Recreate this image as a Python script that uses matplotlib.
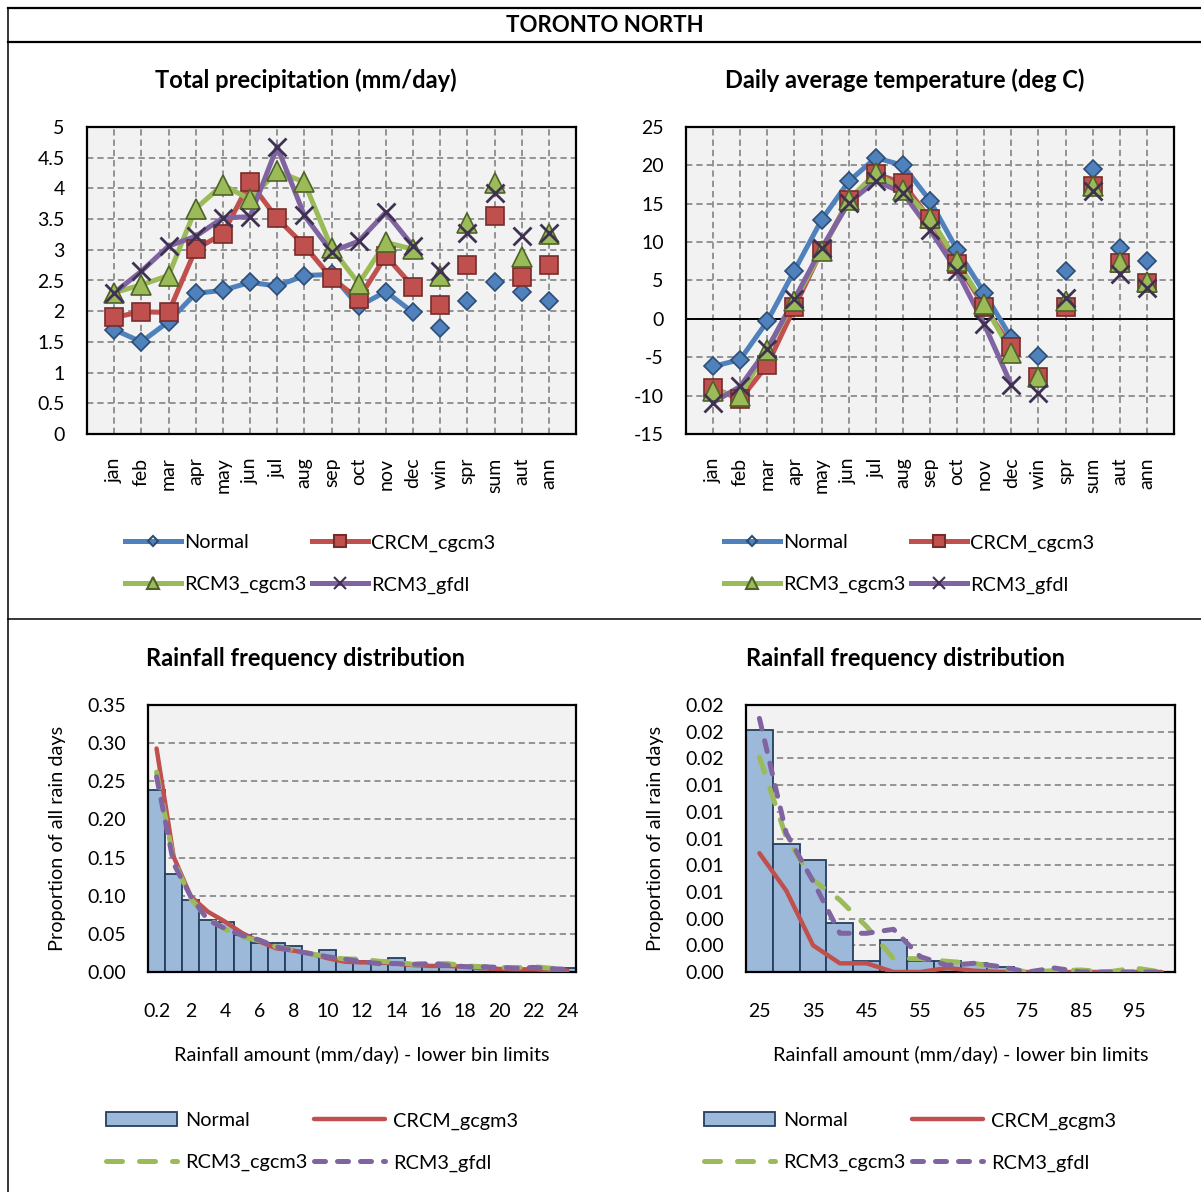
import matplotlib
matplotlib.use("Agg")
import matplotlib.pyplot as plt
import numpy as np
from matplotlib.lines import Line2D
from matplotlib.patches import Patch
from matplotlib.ticker import FormatStrFormatter

plt.rcParams['font.family'] = ['Lato', 'DejaVu Sans']

# ---------------- data ----------------
periods = ['jan', 'feb', 'mar', 'apr', 'may', 'jun', 'jul', 'aug', 'sep', 'oct', 'nov', 'dec',
           'win', 'spr', 'sum', 'aut', 'ann']
series_names = ['Normal', 'CRCM_cgcm3', 'RCM3_cgcm3', 'RCM3_gfdl']

precip_normal = [1.70, 1.50, 1.83, 2.29, 2.34, 2.47, 2.41, 2.58, 2.60, 2.08, 2.32, 1.98,
                 1.72, 2.16, 2.48, 2.32, 2.17]
precip_crcm = [1.90, 1.99, 1.98, 3.01, 3.26, 4.10, 3.51, 3.07, 2.54, 2.20, 2.90, 2.40,
               2.10, 2.75, 3.55, 2.55, 2.75]
precip_rcm3_cgcm3 = [2.30, 2.43, 2.58, 3.67, 4.06, 3.82, 4.28, 4.10, 3.03, 2.45, 3.12, 3.01,
                     2.58, 3.43, 4.08, 2.88, 3.25]
precip_rcm3_gfdl = [2.30, 2.65, 3.06, 3.22, 3.52, 3.54, 4.68, 3.56, 2.97, 3.14, 3.61, 3.06,
                    2.65, 3.27, 3.92, 3.23, 3.27]

temp_normal = [-6.2, -5.3, -0.3, 6.3, 12.9, 17.9, 21.0, 20.0, 15.4, 9.0, 3.4, -2.5,
               -4.8, 6.3, 19.5, 9.2, 7.6]
temp_crcm = [-9.0, -10.5, -6.0, 1.5, 8.9, 15.5, 18.9, 17.7, 13.0, 7.2, 1.6, -3.6,
             -7.6, 1.5, 17.3, 7.3, 4.7]
temp_rcm3_cgcm3 = [-9.4, -10.0, -4.0, 2.3, 8.8, 15.5, 19.0, 16.8, 13.2, 7.5, 1.9, -4.4,
                   -7.6, 2.3, 17.3, 7.4, 4.8]
temp_rcm3_gfdl = [-10.9, -8.8, -3.9, 2.6, 9.2, 15.1, 18.0, 16.4, 11.6, 6.2, -0.7, -8.6,
                  -9.6, 2.7, 16.6, 5.8, 4.0]

precip_ticks = [0, 0.5, 1, 1.5, 2, 2.5, 3, 3.5, 4, 4.5, 5]
precip_ticklabels = ['0', '0.5', '1', '1.5', '2', '2.5', '3', '3.5', '4', '4.5', '5']
temp_ticks = [-15, -10, -5, 0, 5, 10, 15, 20, 25]

# rainfall frequency, small amounts (lower bin limits, mm/day)
bins_small = ['0.2'] + [str(i) for i in range(1, 25)]
freq_small_normal = [0.239, 0.128, 0.094, 0.068, 0.066, 0.048, 0.038, 0.038, 0.034, 0.024,
                     0.029, 0.016, 0.014, 0.011, 0.018, 0.009, 0.008, 0.007, 0.006, 0.005,
                     0.004, 0.004, 0.0035, 0.003, 0.005]
freq_small_crcm = [0.293, 0.151, 0.099, 0.079, 0.066, 0.051, 0.040, 0.031, 0.028, 0.024,
                   0.018, 0.0135, 0.0126, 0.0126, 0.011, 0.009, 0.008, 0.008, 0.007, 0.005,
                   0.004, 0.0035, 0.0035, 0.0026, 0.0017]
freq_small_rcm3_cgcm3 = [0.262, 0.147, 0.096, 0.070, 0.056, 0.046, 0.041, 0.033, 0.029, 0.024,
                         0.020, 0.017, 0.017, 0.014, 0.013, 0.010, 0.011, 0.011, 0.008, 0.007,
                         0.006, 0.0057, 0.007, 0.005, 0.0035]
freq_small_rcm3_gfdl = [0.256, 0.142, 0.099, 0.068, 0.057, 0.048, 0.042, 0.033, 0.028, 0.024,
                        0.020, 0.017, 0.0135, 0.011, 0.011, 0.010, 0.011, 0.009, 0.007, 0.007,
                        0.006, 0.005, 0.006, 0.0044, 0.0035]
small_ticks = [0, 0.05, 0.10, 0.15, 0.20, 0.25, 0.30, 0.35]

# rainfall frequency, large amounts
bins_large = [str(v) for v in range(25, 101, 5)]
freq_large_normal = [0.0181, 0.0096, 0.0084, 0.0037, 0.0008, 0.0024, 0.0008, 0.0008, 0.00065,
                     0.0004, 0.0001, 0.0, 0.0, 0.0, 0.0, 0.0]
freq_large_crcm = [0.0089, 0.0061, 0.0020, 0.00065, 0.00065, 0.0, 0.0, 0.0003, 0.0001, 0.0,
                   0.0, 0.0, 0.0, 0.0, 0.0, 0.0]
freq_large_rcm3_cgcm3 = [0.0161, 0.0101, 0.0069, 0.0054, 0.0034, 0.0010, 0.0010, 0.0008,
                         0.00065, 0.0003, 0.0, 0.0001, 0.00015, 0.0, 0.0003, 0.0]
freq_large_rcm3_gfdl = [0.0190, 0.0104, 0.0068, 0.0029, 0.0029, 0.0032, 0.00115, 0.0005,
                        0.00065, 0.0004, 0.0, 0.0003, 0.0, 0.0, 0.0, 0.0]
large_ticks = [0, 0.002, 0.004, 0.006, 0.008, 0.010, 0.012, 0.014, 0.016, 0.018, 0.020]

freq_names = ['Normal', 'CRCM_gcgm3', 'RCM3_cgcm3', 'RCM3_gfdl']

# ---------------- styles ----------------
W, H = 1201, 1192
fig = plt.figure(figsize=(W / 100, H / 100), dpi=100)

def fx(px):
    return px / W

def fy(py):
    return 1 - py / H

def axes_px(x0, y0, x1, y1):
    return fig.add_axes([fx(x0), fy(y1), fx(x1) - fx(x0), (y1 - y0) / H])

BG = '#F2F2F2'
GRID = '#8C8C8C'
TICK_FS = 14
TEXT_FS = 14.3
TITLE_FS = 17
line_styles = [
    dict(color='#4F81BD', marker='D', ms=9, mfc='#4F81BD', mec='#2C4D75', mew=1.2),
    dict(color='#C0504D', marker='s', ms=13, mfc='#C0504D', mec='#772C2A', mew=1.2),
    dict(color='#9BBB59', marker='^', ms=14, mfc='#9BBB59', mec='#4F6228', mew=1.2),
    dict(color='#8064A2', marker='x', ms=13, mfc='#3F3151', mec='#3F3151', mew=2.0),
]

def style_frame(ax):
    ax.set_facecolor(BG)
    for s in ax.spines.values():
        s.set_color('black')
        s.set_linewidth(1.6)
    ax.tick_params(length=0, labelsize=TICK_FS)

def line_chart(ax, data, yticks, yticklabels, title, title_x, legend_x):
    style_frame(ax)
    x = np.arange(len(periods))
    for vals, st in zip(data, line_styles):
        ax.plot(x[:12], vals[:12], color=st['color'], lw=3.6, solid_capstyle='round', zorder=3)
    for vals, st in zip(data, line_styles):
        ax.plot(x, vals, ls='none', marker=st['marker'], ms=st['ms'], mfc=st['mfc'],
                mec=st['mec'], mew=st['mew'], zorder=4)
    ax.set_xlim(-1, len(periods))
    ax.set_ylim(yticks[0], yticks[-1])
    ax.set_yticks(yticks)
    ax.set_yticklabels(yticklabels)
    ax.set_xticks(x)
    ax.set_xticklabels(periods, rotation=90, fontsize=TICK_FS)
    ax.tick_params(axis='y', pad=16)
    ax.tick_params(axis='x', pad=17)
    ax.grid(True, color=GRID, ls=(0, (3.5, 2.2)), lw=1.3, zorder=1)
    ax.set_axisbelow(True)
    fig.text(fx(title_x), fy(80), title, ha='center', va='center', fontsize=TITLE_FS,
             fontweight='bold')
    handles = []
    for st in line_styles:
        handles.append(Line2D([], [], color=st['color'], lw=3.6, marker=st['marker'],
                              ms=st['ms'] * 0.62, mfc=st['mfc'] if st['marker'] != 'D' else 'none',
                              mec=st['mec'], mew=1.5))
    order = [0, 2, 1, 3]
    ax.legend([handles[i] for i in order], [series_names[i] for i in order],
              loc='center', bbox_to_anchor=(fx(legend_x), fy(564)), bbox_transform=fig.transFigure,
              ncol=2, frameon=False, fontsize=TEXT_FS, handlelength=2.8, handletextpad=0.15,
              columnspacing=0.3, labelspacing=1.25)

# ---------------- top-left ----------------
ax1 = axes_px(87, 127, 576, 434)
line_chart(ax1, [precip_normal, precip_crcm, precip_rcm3_cgcm3, precip_rcm3_gfdl],
           precip_ticks, precip_ticklabels, 'Total precipitation (mm/day)', 306, 310)

# ---------------- top-right ----------------
ax2 = axes_px(686, 127, 1174, 434)
line_chart(ax2, [temp_normal, temp_crcm, temp_rcm3_cgcm3, temp_rcm3_gfdl],
           temp_ticks, [str(t) for t in temp_ticks], 'Daily average temperature (deg C)', 905, 909)
ax2.axhline(0, color='black', lw=1.4, zorder=2)

# ---------------- bottom charts ----------------
bar_fc = '#9DB9DA'
bar_ec = '#243F60'
freq_lines = [
    dict(color='#C0504D', lw=3.2, ls='-'),
    dict(color='#9BBB59', lw=3.6, ls=(0, (3.2, 3.4))),
    dict(color='#8064A2', lw=3.6, ls=(0, (2.2, 2.4))),
]

def freq_chart(ax, bins, normal, others, yticks, fmt, title_x, xlabel_x, ylabel_x, legend_x):
    style_frame(ax)
    x = np.arange(len(bins))
    ax.bar(x, normal, width=1.0, color=bar_fc, edgecolor=bar_ec, lw=1.3, zorder=2)
    for vals, st in zip(others, freq_lines):
        ax.plot(x, vals, color=st['color'], lw=st['lw'], ls=st['ls'],
                dash_capstyle='round', solid_capstyle='round', zorder=3)
    ax.set_xlim(-0.5, len(bins) - 0.5)
    ax.set_ylim(yticks[0], yticks[-1])
    ax.set_yticks(yticks)
    ax.yaxis.set_major_formatter(FormatStrFormatter(fmt))
    ax.set_xticks(x[::2])
    ax.set_xticklabels(bins[::2], fontsize=TICK_FS)
    ax.tick_params(axis='y', pad=16)
    ax.tick_params(axis='x', pad=22)
    ax.yaxis.grid(True, color=GRID, ls=(0, (3.5, 2.2)), lw=1.3, zorder=1)
    ax.set_axisbelow(True)
    fig.text(fx(title_x), fy(658), 'Rainfall frequency distribution', ha='center', va='center',
             fontsize=TITLE_FS, fontweight='bold')
    fig.text(fx(xlabel_x), fy(1055), 'Rainfall amount (mm/day) - lower bin limits',
             ha='center', va='center', fontsize=TEXT_FS)
    fig.text(fx(ylabel_x), fy(838), 'Proportion of all rain days', ha='center', va='center',
             rotation=90, fontsize=TEXT_FS)
    handles = [Patch(facecolor=bar_fc, edgecolor=bar_ec, lw=1.3)]
    for st in freq_lines:
        handles.append(Line2D([], [], color=st['color'], lw=st['lw'], ls=st['ls'],
                              dash_capstyle='round', solid_capstyle='round'))
    order = [0, 2, 1, 3]
    ax.legend([handles[i] for i in order], [freq_names[i] for i in order],
              loc='center', bbox_to_anchor=(fx(legend_x), fy(1142)), bbox_transform=fig.transFigure,
              ncol=2, frameon=False, fontsize=TEXT_FS, handlelength=3.6, handleheight=0.7,
              handletextpad=0.4, columnspacing=0.3, labelspacing=1.25)

ax3 = axes_px(148, 705, 576, 972)
freq_chart(ax3, bins_small, freq_small_normal,
           [freq_small_crcm, freq_small_rcm3_cgcm3, freq_small_rcm3_gfdl],
           small_ticks, '%.2f', 306, 362, 57, 312)

ax4 = axes_px(746, 705, 1175, 972)
freq_chart(ax4, bins_large, freq_large_normal,
           [freq_large_crcm, freq_large_rcm3_cgcm3, freq_large_rcm3_gfdl],
           large_ticks, '%.2f', 905, 961, 655, 910)

# ---------------- figure frame & title ----------------
def fline(x0, y0, x1, y1, lw):
    fig.add_artist(Line2D([fx(x0), fx(x1)], [fy(y0), fy(y1)], transform=fig.transFigure,
                          color='black', lw=lw))

fline(8, 8, 1201, 8, 1.6)
fline(8, 42, 1201, 42, 1.6)
fline(8, 8, 8, 1192, 1.1)
fline(8, 619, 1201, 619, 1.1)
fig.text(fx(605), fy(26), 'TORONTO NORTH', ha='center', va='center', fontsize=16, fontweight='bold')

fig.savefig('out.png', dpi=100, facecolor='white')
